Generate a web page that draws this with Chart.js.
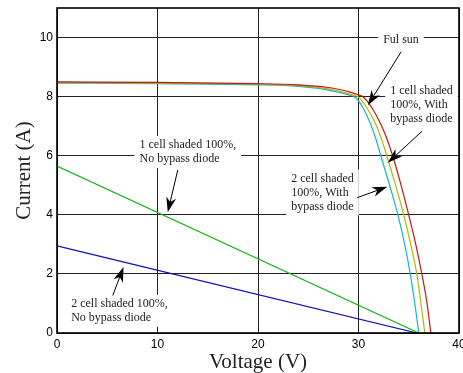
<!DOCTYPE html>
<html>
<head>
<meta charset="utf-8">
<title>I-V curves, shaded cells</title>
<script src="https://cdn.jsdelivr.net/npm/chart.js@4.4.1/dist/chart.umd.min.js"></script>
<style>
  html, body { margin: 0; padding: 0; background: #fff; overflow: hidden; }
  #wrap { width: 463px; height: 373px; overflow: hidden; }
</style>
</head>
<body>
<div id="wrap"><canvas id="iv" width="463" height="373"></canvas></div>
<script>
// voltage (V) / current (A) samples for each case
const fullSunV = [0, 10, 20, 24, 26, 27, 28, 29, 29.8, 30.5, 31.3, 32.2, 32.8, 33.4, 34.2, 35.0, 35.7, 36.3, 36.8, 37.2];
const fullSunI = [8.50, 8.48, 8.44, 8.40, 8.35, 8.31, 8.25, 8.17, 8.08, 7.98, 7.64, 7.08, 6.60, 6.00, 5.05, 4.00, 3.00, 2.00, 1.05, 0];

const oneBypassV = [0, 10, 20, 24, 26, 27, 28, 29, 29.3, 30.0, 30.8, 31.7, 32.25, 32.82, 33.65, 34.5, 35.2, 35.8, 36.2, 36.6];
const oneBypassI = [8.48, 8.46, 8.42, 8.37, 8.31, 8.26, 8.19, 8.10, 8.07, 7.98, 7.64, 7.08, 6.60, 6.00, 5.05, 4.00, 3.00, 2.00, 1.05, 0];

const twoBypassV = [0, 10, 20, 24, 26, 27, 28, 29, 29.7, 30.4, 31.17, 31.7, 32.22, 33.1, 33.92, 34.6, 35.15, 35.6, 36.0];
const twoBypassI = [8.46, 8.44, 8.40, 8.35, 8.28, 8.22, 8.15, 8.06, 7.97, 7.65, 7.10, 6.60, 6.00, 5.00, 4.00, 3.00, 2.00, 1.00, 0];

const oneNoBypassV = [0, 36.0];
const oneNoBypassI = [5.65, 0];

const twoNoBypassV = [0, 35.8];
const twoNoBypassI = [2.95, 0];

const xTicks = [0, 10, 20, 30, 40];
const yTicks = [0, 2, 4, 6, 8, 10];

// callout texts, anchored in data units
const notes = [
  { lines: ['Ful sun'], x: 34.23, y: 9.92, align: 'center' },
  { lines: ['1 cell shaded', '100%, With', 'bypass diode'], x: 33.15, y: 8.2, align: 'left' },
  { lines: ['2 cell shaded', '100%, With', 'bypass diode'], x: 23.3, y: 5.23, align: 'left' },
  { lines: ['1 cell shaded 100%,', 'No bypass diode'], x: 8.21, y: 6.36, align: 'left' },
  { lines: ['2 cell shaded 100%,', 'No bypass diode'], x: 1.41, y: 0.99, align: 'left' }
];
const arrows = [
  { from: [34.25, 9.52], to: [30.93, 7.71] },
  { from: [36.32, 6.83], to: [32.92, 5.76] },
  { from: [29.87, 4.58], to: [32.86, 4.95] },
  { from: [12.02, 5.52], to: [11.02, 4.09] },
  { from: [5.55, 1.27], to: [6.62, 2.23] }
];

const pts = (vs, is) => vs.map((v, i) => ({ x: v, y: is[i] }));

function series(label, vs, is, color) {
  return {
    label,
    data: pts(vs, is),
    borderColor: color,
    borderWidth: 1.2,
    showLine: true,
    pointRadius: 0,
    cubicInterpolationMode: 'monotone',
    fill: false
  };
}

const SERIF = '"Liberation Serif", "DejaVu Serif", serif';
const SANS = '"Liberation Sans", Arial, sans-serif';

// white boxes with text under the curves, arrows and frame on top
const callouts = {
  id: 'callouts',
  beforeDatasetsDraw(chart) {
    const { ctx, scales: { x, y } } = chart;
    const lh = 14;
    ctx.save();
    ctx.font = '12px ' + SERIF;
    ctx.textBaseline = 'middle';
    notes.forEach(n => {
      const px = x.getPixelForValue(n.x);
      const py = y.getPixelForValue(n.y);
      const w = Math.max(...n.lines.map(t => ctx.measureText(t).width));
      const left = n.align === 'center' ? px - w / 2 : px;
      ctx.fillStyle = '#fff';
      ctx.fillRect(left - 5, py - lh / 2 - 2, w + 10, lh * n.lines.length + 4);
      ctx.fillStyle = '#222';
      ctx.textAlign = n.align;
      n.lines.forEach((t, i) => ctx.fillText(t, px, py + i * lh));
    });
    ctx.restore();
  },
  afterDatasetsDraw(chart) {
    const { ctx, scales: { x, y } } = chart;
    ctx.save();
    ctx.strokeStyle = '#000';
    ctx.fillStyle = '#000';
    ctx.lineWidth = 1;
    arrows.forEach(a => {
      const x0 = x.getPixelForValue(a.from[0]), y0 = y.getPixelForValue(a.from[1]);
      const x1 = x.getPixelForValue(a.to[0]), y1 = y.getPixelForValue(a.to[1]);
      const ang = Math.atan2(y1 - y0, x1 - x0);
      const c = Math.cos(ang), s = Math.sin(ang);
      const len = 15, half = 5;
      const bx = x1 - len * c, by = y1 - len * s;
      ctx.beginPath();
      ctx.moveTo(x0, y0);
      ctx.lineTo(x1 - 8 * c, y1 - 8 * s);
      ctx.stroke();
      ctx.beginPath();
      ctx.moveTo(x1, y1);
      ctx.lineTo(bx - s * half, by + c * half);
      ctx.lineTo(x1 - 0.7 * len * c, y1 - 0.7 * len * s);
      ctx.lineTo(bx + s * half, by - c * half);
      ctx.closePath();
      ctx.fill();
    });
    ctx.restore();
  },
  afterDraw(chart) {
    const { ctx, chartArea: a } = chart;
    ctx.save();
    ctx.strokeStyle = '#000';
    ctx.lineWidth = 1.6;
    ctx.strokeRect(a.left, a.top, a.right - a.left, a.bottom - a.top);
    ctx.restore();
  }
};

new Chart(document.getElementById('iv'), {
  type: 'scatter',
  data: {
    datasets: [
      series('Full sun', fullSunV, fullSunI, '#c01818'),
      series('1 cell shaded, bypass', oneBypassV, oneBypassI, '#bdb300'),
      series('2 cell shaded, bypass', twoBypassV, twoBypassI, '#12b8c4'),
      series('1 cell shaded, no bypass', oneNoBypassV, oneNoBypassI, '#16b416'),
      series('2 cell shaded, no bypass', twoNoBypassV, twoNoBypassI, '#1010b8')
    ]
  },
  options: {
    responsive: false,
    animation: false,
    layout: { padding: 0 },
    plugins: { legend: { display: false }, tooltip: { enabled: false } },
    scales: {
      x: {
        type: 'linear',
        min: 0,
        max: 40,
        afterBuildTicks: s => { s.ticks = xTicks.map(v => ({ value: v })); },
        // plot runs almost to the right edge, the last label gets cut
        afterFit: s => { s.height = 40; s.paddingRight = 4; s.paddingLeft = 0; },
        ticks: { color: '#000', padding: 4, font: { family: SANS, size: 12 } },
        grid: { color: '#222', lineWidth: 1, drawTicks: false },
        border: { display: false },
        title: {
          display: true,
          text: 'Voltage (V)',
          color: '#222',
          padding: 0,
          font: { family: SERIF, size: 21, lineHeight: 1 }
        }
      },
      y: {
        type: 'linear',
        min: 0,
        max: 11,
        afterBuildTicks: s => { s.ticks = yTicks.map(v => ({ value: v })); },
        afterFit: s => { s.width = 57; s.paddingTop = 8; s.paddingBottom = 0; },
        ticks: { color: '#000', padding: 4, font: { family: SANS, size: 12 } },
        grid: { color: '#222', lineWidth: 1, drawTicks: false },
        border: { display: false },
        title: {
          display: true,
          text: 'Current (A)',
          color: '#222',
          padding: { top: 14, bottom: 0 },
          font: { family: SERIF, size: 21, lineHeight: 1 }
        }
      }
    }
  },
  plugins: [callouts]
});
</script>
</body>
</html>
